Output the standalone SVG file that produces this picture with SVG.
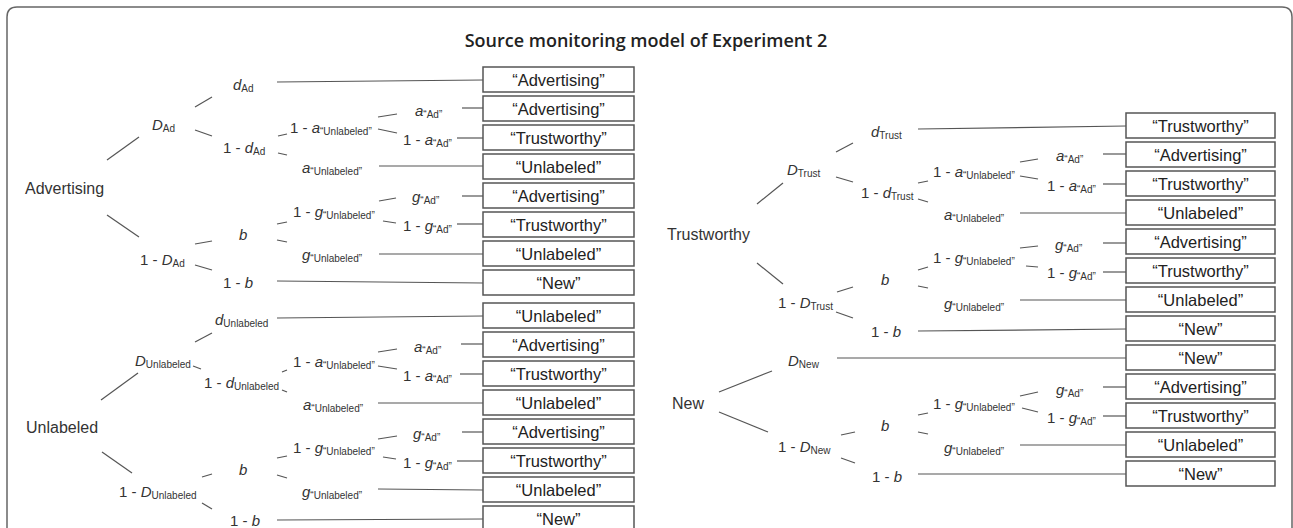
<svg xmlns="http://www.w3.org/2000/svg" width="1293" height="528" viewBox="0 0 1293 528">
<style>
.frame{fill:none;stroke:#666;stroke-width:1.5}
.title{font-family:"Open Sans","Liberation Sans",sans-serif;font-weight:600;font-size:18px;fill:#222}
.root{font-family:"Liberation Sans",Arial,sans-serif;font-size:16px;fill:#333}
.lbl{font-family:"Liberation Sans",Arial,sans-serif;font-size:15px;fill:#333}
.i{font-style:italic}
.s{font-size:10px;font-style:normal}
.box rect{fill:#fff;stroke:#555;stroke-width:1.5}
.box text{font-family:"Liberation Sans",Arial,sans-serif;font-size:16.5px;fill:#222;text-anchor:middle}
#connectors line{stroke:#555;stroke-width:1.2}
</style>
<rect width="1293" height="528" fill="#fff"/>
<path class="frame" d="M7,528 V17 Q7,7 17,7 H1282 Q1292,7 1292,17 V528"/>
<text class="title" x="646" y="47" text-anchor="middle">Source monitoring model of Experiment 2</text>

<g id="connectors">
<!-- Advertising tree -->
<line x1="107" y1="160" x2="139" y2="137"/>
<line x1="107" y1="215" x2="139" y2="237"/>
<line x1="195" y1="107" x2="212" y2="97"/>
<line x1="277" y1="82" x2="483" y2="80"/>
<line x1="195" y1="130" x2="212" y2="136"/>
<line x1="278" y1="136" x2="287" y2="134"/>
<line x1="278" y1="153" x2="287" y2="155"/>
<line x1="379" y1="166" x2="483" y2="166"/>
<line x1="378" y1="117" x2="397" y2="114"/>
<line x1="378" y1="129" x2="397" y2="133"/>
<line x1="462" y1="108" x2="483" y2="108"/>
<line x1="457" y1="138" x2="483" y2="138"/>
<line x1="195" y1="244" x2="212" y2="241"/>
<line x1="195" y1="265" x2="212" y2="270"/>
<line x1="277" y1="281" x2="483" y2="283"/>
<line x1="277" y1="224" x2="287" y2="222"/>
<line x1="277" y1="240" x2="287" y2="242"/>
<line x1="379" y1="254" x2="483" y2="254"/>
<line x1="379" y1="201" x2="396" y2="198"/>
<line x1="383" y1="221" x2="396" y2="223"/>
<line x1="462" y1="196" x2="483" y2="196"/>
<line x1="457" y1="224" x2="483" y2="224"/>
<!-- Unlabeled tree -->
<line x1="101" y1="400" x2="138" y2="373"/>
<line x1="102" y1="452" x2="132" y2="473"/>
<line x1="195" y1="342" x2="212" y2="333"/>
<line x1="277" y1="318" x2="483" y2="316"/>
<line x1="193" y1="366" x2="201" y2="369"/>
<line x1="282" y1="372" x2="287" y2="370"/>
<line x1="282" y1="390" x2="287" y2="392"/>
<line x1="378" y1="403" x2="483" y2="403"/>
<line x1="378" y1="352" x2="397" y2="349"/>
<line x1="378" y1="366" x2="397" y2="369"/>
<line x1="461" y1="344" x2="483" y2="344"/>
<line x1="460" y1="374" x2="483" y2="374"/>
<line x1="202" y1="477" x2="212" y2="474"/>
<line x1="202" y1="503" x2="212" y2="509"/>
<line x1="277" y1="520" x2="483" y2="519"/>
<line x1="277" y1="458" x2="287" y2="456"/>
<line x1="277" y1="475" x2="287" y2="478"/>
<line x1="378" y1="489" x2="483" y2="490"/>
<line x1="378" y1="439" x2="397" y2="436"/>
<line x1="383" y1="457" x2="396" y2="459"/>
<line x1="462" y1="432" x2="483" y2="432"/>
<line x1="457" y1="461" x2="483" y2="461"/>
<!-- Trustworthy tree -->
<line x1="757" y1="204" x2="783" y2="183"/>
<line x1="757" y1="263" x2="783" y2="284"/>
<line x1="836" y1="152" x2="853" y2="143"/>
<line x1="918" y1="129" x2="1126" y2="126"/>
<line x1="836" y1="177" x2="853" y2="182"/>
<line x1="918" y1="183" x2="928" y2="181"/>
<line x1="918" y1="199" x2="928" y2="202"/>
<line x1="1020" y1="213" x2="1126" y2="213"/>
<line x1="1020" y1="162" x2="1038" y2="159"/>
<line x1="1020" y1="176" x2="1038" y2="179"/>
<line x1="1103" y1="154" x2="1126" y2="154"/>
<line x1="1103" y1="184" x2="1126" y2="184"/>
<line x1="837" y1="292" x2="853" y2="287"/>
<line x1="836" y1="312" x2="853" y2="318"/>
<line x1="918" y1="331" x2="1126" y2="329"/>
<line x1="918" y1="270" x2="928" y2="267"/>
<line x1="918" y1="286" x2="928" y2="288"/>
<line x1="1020" y1="300" x2="1126" y2="300"/>
<line x1="1020" y1="248" x2="1038" y2="246"/>
<line x1="1026" y1="266" x2="1038" y2="267"/>
<line x1="1103" y1="243" x2="1126" y2="243"/>
<line x1="1103" y1="272" x2="1126" y2="272"/>
<!-- New tree -->
<line x1="719" y1="392" x2="772" y2="371"/>
<line x1="719" y1="412" x2="768" y2="432"/>
<line x1="837" y1="358" x2="1126" y2="358"/>
<line x1="841" y1="435" x2="855" y2="432"/>
<line x1="841" y1="458" x2="855" y2="463"/>
<line x1="918" y1="474" x2="1126" y2="474"/>
<line x1="918" y1="415" x2="928" y2="413"/>
<line x1="918" y1="432" x2="928" y2="434"/>
<line x1="1020" y1="445" x2="1126" y2="445"/>
<line x1="1020" y1="396" x2="1038" y2="392"/>
<line x1="1022" y1="408" x2="1038" y2="412"/>
<line x1="1103" y1="387" x2="1126" y2="387"/>
<line x1="1103" y1="416" x2="1126" y2="416"/>
</g>

<!-- Advertising tree nodes -->
<g id="n-advertising"><text class="root" x="25" y="194">Advertising</text></g>
<g id="n-DAd"><text class="lbl" x="152" y="130"><tspan class="i">D</tspan><tspan class="s" dy="1.5">Ad</tspan></text></g>
<g id="n-1-DAd"><text class="lbl" x="140" y="265">1 - <tspan class="i">D</tspan><tspan class="s" dy="1.5">Ad</tspan></text></g>
<g id="n-dAd"><text class="lbl" x="233" y="90"><tspan class="i">d</tspan><tspan class="s" dy="1.5">Ad</tspan></text></g>
<g id="n-1-dAd"><text class="lbl" x="223" y="153">1 - <tspan class="i">d</tspan><tspan class="s" dy="1.5">Ad</tspan></text></g>
<g id="n-1-aU-1"><text class="lbl" x="290" y="133">1 - <tspan class="i">a</tspan><tspan class="s" dy="1.5">“Unlabeled”</tspan></text></g>
<g id="n-aU-1"><text class="lbl" x="302" y="173"><tspan class="i">a</tspan><tspan class="s" dy="1.5">“Unlabeled”</tspan></text></g>
<g id="n-aAd-1"><text class="lbl" x="415" y="116"><tspan class="i">a</tspan><tspan class="s" dy="1.5">“Ad”</tspan></text></g>
<g id="n-1-aAd-1"><text class="lbl" x="403" y="145">1 - <tspan class="i">a</tspan><tspan class="s" dy="1.5">“Ad”</tspan></text></g>
<g id="n-b-1"><text class="lbl i" x="239" y="240">b</text></g>
<g id="n-1-b-1"><text class="lbl" x="223" y="288">1 - <tspan class="i">b</tspan></text></g>
<g id="n-1-gU-1"><text class="lbl" x="293" y="217">1 - <tspan class="i">g</tspan><tspan class="s" dy="1.5">“Unlabeled”</tspan></text></g>
<g id="n-gU-1"><text class="lbl" x="302" y="260"><tspan class="i">g</tspan><tspan class="s" dy="1.5">“Unlabeled”</tspan></text></g>
<g id="n-gAd-1"><text class="lbl" x="412" y="202"><tspan class="i">g</tspan><tspan class="s" dy="1.5">“Ad”</tspan></text></g>
<g id="n-1-gAd-1"><text class="lbl" x="403" y="231">1 - <tspan class="i">g</tspan><tspan class="s" dy="1.5">“Ad”</tspan></text></g>

<!-- Unlabeled tree nodes -->
<g id="n-unlabeled"><text class="root" x="26" y="433">Unlabeled</text></g>
<g id="n-DU"><text class="lbl" x="135" y="366"><tspan class="i">D</tspan><tspan class="s" dy="1.5">Unlabeled</tspan></text></g>
<g id="n-dU"><text class="lbl" x="215" y="325"><tspan class="i">d</tspan><tspan class="s" dy="1.5">Unlabeled</tspan></text></g>
<g id="n-1-dU"><text class="lbl" x="204" y="388">1 - <tspan class="i">d</tspan><tspan class="s" dy="1.5">Unlabeled</tspan></text></g>
<g id="n-1-aU-2"><text class="lbl" x="293" y="367">1 - <tspan class="i">a</tspan><tspan class="s" dy="1.5">“Unlabeled”</tspan></text></g>
<g id="n-aU-2"><text class="lbl" x="303" y="410"><tspan class="i">a</tspan><tspan class="s" dy="1.5">“Unlabeled”</tspan></text></g>
<g id="n-aAd-2"><text class="lbl" x="414" y="352"><tspan class="i">a</tspan><tspan class="s" dy="1.5">“Ad”</tspan></text></g>
<g id="n-1-aAd-2"><text class="lbl" x="403" y="381">1 - <tspan class="i">a</tspan><tspan class="s" dy="1.5">“Ad”</tspan></text></g>
<g id="n-1-DU"><text class="lbl" x="119" y="497">1 - <tspan class="i">D</tspan><tspan class="s" dy="1.5">Unlabeled</tspan></text></g>
<g id="n-b-2"><text class="lbl i" x="239" y="475">b</text></g>
<g id="n-1-b-2"><text class="lbl" x="230" y="526">1 - <tspan class="i">b</tspan></text></g>
<g id="n-1-gU-2"><text class="lbl" x="293" y="453">1 - <tspan class="i">g</tspan><tspan class="s" dy="1.5">“Unlabeled”</tspan></text></g>
<g id="n-gU-2"><text class="lbl" x="302" y="497"><tspan class="i">g</tspan><tspan class="s" dy="1.5">“Unlabeled”</tspan></text></g>
<g id="n-gAd-2"><text class="lbl" x="413" y="439"><tspan class="i">g</tspan><tspan class="s" dy="1.5">“Ad”</tspan></text></g>
<g id="n-1-gAd-2"><text class="lbl" x="403" y="468">1 - <tspan class="i">g</tspan><tspan class="s" dy="1.5">“Ad”</tspan></text></g>

<!-- Trustworthy tree nodes -->
<g id="n-trustworthy"><text class="root" x="667" y="240">Trustworthy</text></g>
<g id="n-DT"><text class="lbl" x="787" y="175"><tspan class="i">D</tspan><tspan class="s" dy="1.5">Trust</tspan></text></g>
<g id="n-dT"><text class="lbl" x="871" y="137"><tspan class="i">d</tspan><tspan class="s" dy="1.5">Trust</tspan></text></g>
<g id="n-1-dT"><text class="lbl" x="861" y="198">1 - <tspan class="i">d</tspan><tspan class="s" dy="1.5">Trust</tspan></text></g>
<g id="n-1-aU-3"><text class="lbl" x="933" y="177">1 - <tspan class="i">a</tspan><tspan class="s" dy="1.5">“Unlabeled”</tspan></text></g>
<g id="n-aU-3"><text class="lbl" x="944" y="220"><tspan class="i">a</tspan><tspan class="s" dy="1.5">“Unlabeled”</tspan></text></g>
<g id="n-aAd-3"><text class="lbl" x="1056" y="161"><tspan class="i">a</tspan><tspan class="s" dy="1.5">“Ad”</tspan></text></g>
<g id="n-1-aAd-3"><text class="lbl" x="1047" y="191">1 - <tspan class="i">a</tspan><tspan class="s" dy="1.5">“Ad”</tspan></text></g>
<g id="n-1-DT"><text class="lbl" x="778" y="308">1 - <tspan class="i">D</tspan><tspan class="s" dy="1.5">Trust</tspan></text></g>
<g id="n-b-3"><text class="lbl i" x="881" y="285">b</text></g>
<g id="n-1-b-3"><text class="lbl" x="871" y="337">1 - <tspan class="i">b</tspan></text></g>
<g id="n-1-gU-3"><text class="lbl" x="933" y="263">1 - <tspan class="i">g</tspan><tspan class="s" dy="1.5">“Unlabeled”</tspan></text></g>
<g id="n-gU-3"><text class="lbl" x="944" y="309"><tspan class="i">g</tspan><tspan class="s" dy="1.5">“Unlabeled”</tspan></text></g>
<g id="n-gAd-3"><text class="lbl" x="1055" y="250"><tspan class="i">g</tspan><tspan class="s" dy="1.5">“Ad”</tspan></text></g>
<g id="n-1-gAd-3"><text class="lbl" x="1047" y="278">1 - <tspan class="i">g</tspan><tspan class="s" dy="1.5">“Ad”</tspan></text></g>

<!-- New tree nodes -->
<g id="n-new"><text class="root" x="672" y="409">New</text></g>
<g id="n-DN"><text class="lbl" x="788" y="366"><tspan class="i">D</tspan><tspan class="s" dy="1.5">New</tspan></text></g>
<g id="n-1-DN"><text class="lbl" x="778" y="452">1 - <tspan class="i">D</tspan><tspan class="s" dy="1.5">New</tspan></text></g>
<g id="n-b-4"><text class="lbl i" x="881" y="431">b</text></g>
<g id="n-1-b-4"><text class="lbl" x="872" y="482">1 - <tspan class="i">b</tspan></text></g>
<g id="n-1-gU-4"><text class="lbl" x="933" y="409">1 - <tspan class="i">g</tspan><tspan class="s" dy="1.5">“Unlabeled”</tspan></text></g>
<g id="n-gU-4"><text class="lbl" x="944" y="453"><tspan class="i">g</tspan><tspan class="s" dy="1.5">“Unlabeled”</tspan></text></g>
<g id="n-gAd-4"><text class="lbl" x="1056" y="395"><tspan class="i">g</tspan><tspan class="s" dy="1.5">“Ad”</tspan></text></g>
<g id="n-1-gAd-4"><text class="lbl" x="1047" y="423">1 - <tspan class="i">g</tspan><tspan class="s" dy="1.5">“Ad”</tspan></text></g>

<!-- Left response boxes -->
<g id="L1" class="box"><rect x="483" y="67" width="151" height="25"/><text x="558.5" y="85.5">“Advertising”</text></g>
<g id="L2" class="box"><rect x="483" y="96" width="151" height="25"/><text x="558.5" y="114.5">“Advertising”</text></g>
<g id="L3" class="box"><rect x="483" y="125" width="151" height="25"/><text x="558.5" y="143.5">“Trustworthy”</text></g>
<g id="L4" class="box"><rect x="483" y="154" width="151" height="25"/><text x="558.5" y="172.5">“Unlabeled”</text></g>
<g id="L5" class="box"><rect x="483" y="183" width="151" height="25"/><text x="558.5" y="201.5">“Advertising”</text></g>
<g id="L6" class="box"><rect x="483" y="212" width="151" height="25"/><text x="558.5" y="230.5">“Trustworthy”</text></g>
<g id="L7" class="box"><rect x="483" y="241" width="151" height="25"/><text x="558.5" y="259.5">“Unlabeled”</text></g>
<g id="L8" class="box"><rect x="483" y="270" width="151" height="25"/><text x="558.5" y="288.5">“New”</text></g>
<g id="L9" class="box"><rect x="483" y="303" width="151" height="25"/><text x="558.5" y="321.5">“Unlabeled”</text></g>
<g id="L10" class="box"><rect x="483" y="332" width="151" height="25"/><text x="558.5" y="350.5">“Advertising”</text></g>
<g id="L11" class="box"><rect x="483" y="361" width="151" height="25"/><text x="558.5" y="379.5">“Trustworthy”</text></g>
<g id="L12" class="box"><rect x="483" y="390" width="151" height="25"/><text x="558.5" y="408.5">“Unlabeled”</text></g>
<g id="L13" class="box"><rect x="483" y="419" width="151" height="25"/><text x="558.5" y="437.5">“Advertising”</text></g>
<g id="L14" class="box"><rect x="483" y="448" width="151" height="25"/><text x="558.5" y="466.5">“Trustworthy”</text></g>
<g id="L15" class="box"><rect x="483" y="477" width="151" height="25"/><text x="558.5" y="495.5">“Unlabeled”</text></g>
<g id="L16" class="box"><rect x="483" y="506" width="151" height="25"/><text x="558.5" y="524.5">“New”</text></g>

<!-- Right response boxes -->
<g id="R1" class="box"><rect x="1126" y="113" width="149" height="25"/><text x="1200.5" y="131.5">“Trustworthy”</text></g>
<g id="R2" class="box"><rect x="1126" y="142" width="149" height="25"/><text x="1200.5" y="160.5">“Advertising”</text></g>
<g id="R3" class="box"><rect x="1126" y="171" width="149" height="25"/><text x="1200.5" y="189.5">“Trustworthy”</text></g>
<g id="R4" class="box"><rect x="1126" y="200" width="149" height="25"/><text x="1200.5" y="218.5">“Unlabeled”</text></g>
<g id="R5" class="box"><rect x="1126" y="229" width="149" height="25"/><text x="1200.5" y="247.5">“Advertising”</text></g>
<g id="R6" class="box"><rect x="1126" y="258" width="149" height="25"/><text x="1200.5" y="276.5">“Trustworthy”</text></g>
<g id="R7" class="box"><rect x="1126" y="287" width="149" height="25"/><text x="1200.5" y="305.5">“Unlabeled”</text></g>
<g id="R8" class="box"><rect x="1126" y="316" width="149" height="25"/><text x="1200.5" y="334.5">“New”</text></g>
<g id="R9" class="box"><rect x="1126" y="345" width="149" height="25"/><text x="1200.5" y="363.5">“New”</text></g>
<g id="R10" class="box"><rect x="1126" y="374" width="149" height="25"/><text x="1200.5" y="392.5">“Advertising”</text></g>
<g id="R11" class="box"><rect x="1126" y="403" width="149" height="25"/><text x="1200.5" y="421.5">“Trustworthy”</text></g>
<g id="R12" class="box"><rect x="1126" y="432" width="149" height="25"/><text x="1200.5" y="450.5">“Unlabeled”</text></g>
<g id="R13" class="box"><rect x="1126" y="461" width="149" height="25"/><text x="1200.5" y="479.5">“New”</text></g>
</svg>
